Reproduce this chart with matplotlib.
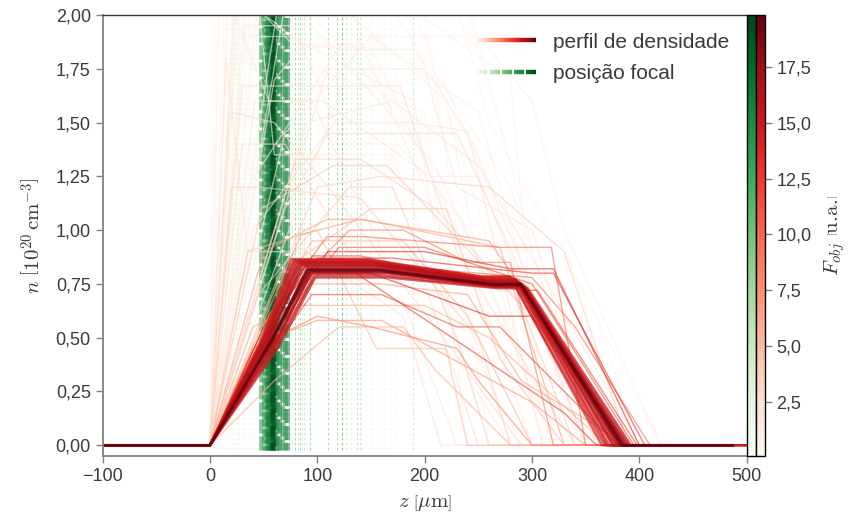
import numpy as np
import matplotlib
matplotlib.use("Agg")
import matplotlib.pyplot as plt
from matplotlib.colors import Normalize
from matplotlib.cm import ScalarMappable
from matplotlib.collections import LineCollection
from matplotlib.legend_handler import HandlerBase
from matplotlib.lines import Line2D
from matplotlib.ticker import FuncFormatter

plt.rcParams['font.family'] = ['Liberation Sans', 'DejaVu Sans']
plt.rcParams['mathtext.fontset'] = 'cm'

# ---------------- data ----------------
z_start = -100
# density profiles: node positions z [um] and densities n [1e20 cm^-3]
profile_z = [
    # low objective (exploration)
    [0, 15, 120, 200, 260, 330, 490],
    [0, 25, 90, 150, 230, 300, 490],
    [0, 35, 119, 191, 245, 360, 490],
    [0, 40, 116, 186, 240, 310, 490],
    [0, 60, 87, 142, 200, 280, 490],
    [0, 30, 100, 177, 230, 340, 490],
    [0, 80, 140, 210, 300, 380, 490],
    [0, 10, 60, 150, 250, 320, 490],
    [0, 50, 109, 142, 270, 330, 490],
    [0, 20, 80, 160, 280, 360, 490],
    [0, 45, 130, 170, 230, 260, 490],
    [0, 70, 110, 230, 290, 350, 490],
    [0, 55, 95, 180, 240, 300, 490],
    [0, 90, 170, 250, 320, 400, 490],
    [0, 25, 75, 190, 230, 280, 490],
    [0, 65, 150, 220, 270, 330, 490],
    [0, 12, 40, 120, 200, 260, 490],
    [0, 100, 160, 260, 330, 390, 490],
    [0, 30, 70, 130, 190, 250, 490],
    [0, 110, 200, 230, 300, 360, 490],
    [0, 50, 120, 220, 260, 300, 490],
    [0, 40, 85, 200, 260, 370, 490],
    [0, 18, 60, 110, 210, 290, 490],
    [0, 75, 130, 210, 280, 310, 490],
    [0, 35, 100, 155, 220, 240, 490],
    [0, 140, 250, 300, 330, 420, 490],
    [0, 85, 140, 260, 330, 370, 490],
    [0, 60, 120, 180, 210, 280, 490],
    [0, 22, 55, 95, 170, 230, 490],
    [0, 95, 160, 240, 290, 390, 490],
    [0, 30, 200, 260, 330, 420, 490],
    [0, 45, 230, 280, 360, 400, 490],
    [0, 8, 90, 180, 250, 310, 490],
    [0, 28, 150, 240, 280, 350, 490],
    [0, 38, 60, 170, 220, 290, 490],
    [0, 42, 105, 205, 250, 350, 490],
    [0, 65, 125, 175, 235, 320, 490],
    [0, 20, 45, 140, 250, 280, 490],
    [0, 5, 50, 100, 200, 240, 490],
    [0, 33, 95, 210, 300, 360, 490],
    [0, 48, 115, 165, 290, 340, 490],
    [0, 15, 35, 90, 180, 215, 490],
    [0, 70, 150, 250, 310, 345, 490],
    [0, 58, 100, 160, 300, 350, 490],
    # intermediate objective
    [0, 70, 100, 170, 300, 320, 405, 490],
    [0, 65, 95, 140, 290, 305, 398, 490],
    [0, 40, 120, 200, 270, 300, 395, 490],
    [0, 55, 109, 142, 270, 318, 350, 490],
    [0, 80, 105, 200, 300, 340, 410, 500],
    [0, 45, 95, 160, 230, 270, 380, 490],
    [0, 60, 130, 180, 240, 280, 320, 490],
    [0, 50, 90, 150, 260, 300, 390, 490],
    [0, 75, 110, 200, 280, 320, 400, 500],
    [0, 40, 100, 150, 230, 250, 300, 490],
    [0, 55, 95, 130, 330, 360, 490],
    # converged
    [0, 58, 93, 160, 263, 290, 385, 487],
    [0, 55, 85, 155, 260, 288, 380, 487],
    [0, 52, 80, 150, 258, 285, 375, 487],
    [0, 60, 95, 165, 265, 292, 388, 487],
    [0, 56, 88, 158, 262, 289, 382, 487],
    [0, 50, 78, 148, 255, 282, 372, 487],
    [0, 62, 97, 162, 266, 294, 390, 487],
    [0, 54, 84, 152, 259, 286, 378, 487],
    [0, 57, 90, 156, 261, 290, 384, 487],
    [0, 53, 82, 150, 257, 284, 370, 500],
    [0, 59, 92, 160, 264, 291, 386, 500],
    [0, 51, 79, 146, 254, 280, 365, 500],
    [0, 63, 98, 166, 268, 296, 392, 487],
    [0, 55, 86, 154, 260, 287, 381, 487],
    [0, 58, 91, 158, 262, 289, 383, 487],
    [0, 49, 76, 145, 253, 279, 368, 487],
    [0, 61, 94, 161, 265, 293, 387, 487],
    [0, 54, 83, 151, 258, 285, 376, 487],
]
profile_n = [
    [0, 2.3, 2.3, 1.9, 1.2, 0, 0],
    [0, 2.1, 1.85, 1.85, 1.0, 0, 0],
    [0, 1.2, 1.84, 1.84, 1.4, 0, 0],
    [0, 1.0, 1.50, 1.50, 1.46, 0, 0],
    [0, 1.7, 1.86, 1.86, 1.2, 0, 0],
    [0, 1.67, 1.67, 1.67, 0.9, 0, 0],
    [0, 1.33, 1.33, 1.1, 0.6, 0, 0],
    [0, 2.6, 2.2, 1.7, 1.0, 0, 0],
    [0, 0.9, 1.05, 1.05, 0.92, 0, 0],
    [0, 2.5, 2.5, 2.1, 1.2, 0, 0],
    [0, 0.7, 1.2, 1.2, 0.5, 0, 0],
    [0, 1.1, 1.45, 1.45, 0.8, 0, 0],
    [0, 0.6, 0.95, 0.95, 0.6, 0, 0],
    [0, 1.5, 1.6, 1.3, 0.7, 0, 0],
    [0, 1.9, 1.9, 1.6, 0.4, 0, 0],
    [0, 0.8, 1.1, 1.1, 0.4, 0, 0],
    [0, 2.8, 2.6, 2.4, 2.0, 0, 0],
    [0, 1.2, 1.25, 1.2, 0.9, 0, 0],
    [0, 1.4, 1.4, 0.9, 0.9, 0, 0],
    [0, 1.75, 1.75, 1.2, 1.0, 0, 0],
    [0, 2.3, 2.05, 1.6, 0.6, 0, 0],
    [0, 0.55, 0.65, 0.65, 0.5, 0, 0],
    [0, 1.55, 1.5, 1.2, 0.55, 0, 0],
    [0, 2.2, 2.2, 1.95, 1.7, 0, 0],
    [0, 0.9, 1.0, 0.45, 0.45, 0, 0],
    [0, 1.9, 1.9, 1.6, 1.0, 0, 0],
    [0, 0.98, 1.05, 0.95, 0.45, 0, 0],
    [0, 0.3, 0.55, 0.55, 0.35, 0, 0],
    [0, 2.0, 1.6, 1.6, 0.8, 0, 0],
    [0, 0.75, 0.75, 0.7, 0.3, 0, 0],
    [0, 2.6, 2.6, 1.5, 0.9, 0, 0],
    [0, 2.4, 2.2, 1.3, 0.6, 0, 0],
    [0, 3.0, 2.8, 2.2, 1.1, 0, 0],
    [0, 2.2, 2.2, 2.1, 1.3, 0, 0],
    [0, 2.4, 1.35, 1.35, 0.7, 0, 0],
    [0, 1.6, 1.6, 1.25, 1.25, 0, 0],
    [0, 2.1, 1.4, 1.4, 1.05, 0, 0],
    [0, 1.2, 1.2, 1.15, 0.5, 0, 0],
    [0, 2.9, 2.0, 1.75, 1.55, 0, 0],
    [0, 1.95, 1.95, 1.3, 0.3, 0, 0],
    [0, 1.1, 1.3, 1.3, 0.65, 0, 0],
    [0, 1.8, 0.9, 0.9, 0.6, 0, 0],
    [0, 1.45, 1.9, 1.55, 0.5, 0, 0],
    [0, 0.5, 0.58, 0.58, 0.2, 0, 0],
    [0, .55, .87, .87, .80, .80, 0, 0],
    [0, .50, .88, .88, .72, .72, 0, 0],
    [0, .40, .92, .92, .80, .75, 0, 0],
    [0, .60, .97, .97, .92, .92, 0, 0],
    [0, .70, .85, .82, .78, .55, 0, 0],
    [0, .35, .70, .70, .55, .55, 0, 0],
    [0, .65, 1.0, 1.0, .85, .85, 0, 0],
    [0, .55, .80, .80, .60, .60, 0, 0],
    [0, .65, .90, .90, .82, .82, 0, 0],
    [0, .45, .60, .55, .45, .30, 0, 0],
    [0, .48, .82, .82, .15, 0, 0],
    [0, .49, .81, .81, .745, .745, 0, 0],
    [0, .50, .84, .84, .76, .76, 0, 0],
    [0, .50, .85, .85, .77, .77, 0, 0],
    [0, .48, .80, .80, .74, .74, 0, 0],
    [0, .52, .83, .83, .755, .755, 0, 0],
    [0, .49, .86, .86, .78, .78, 0, 0],
    [0, .46, .79, .79, .735, .735, 0, 0],
    [0, .53, .845, .845, .765, .765, 0, 0],
    [0, .47, .82, .82, .75, .75, 0, 0],
    [0, .51, .855, .855, .77, .77, 0, 0],
    [0, .50, .82, .82, .75, .75, 0, 0],
    [0, .52, .86, .86, .78, .78, 0, 0],
    [0, .45, .78, .78, .73, .73, 0, 0],
    [0, .49, .835, .835, .76, .76, 0, 0],
    [0, .50, .815, .815, .75, .75, 0, 0],
    [0, .50, .865, .865, .785, .785, 0, 0],
    [0, .47, .805, .805, .74, .74, 0, 0],
    [0, .51, .85, .85, .77, .77, 0, 0],
]
# objective function value of each profile [u.a.]
F_obj = [
    0.3, 0.8, 1.5, 2.2, 1.1, 2.8, 3.4, 0.2, 6.5, 0.5, 4.0, 3.0, 5.5, 2.0, 1.3, 4.8,
    0.15, 3.8, 2.5, 1.8, 0.6, 6.0, 2.9, 0.4, 5.0, 0.9, 7.0, 5.8, 1.6, 6.8, 0.1, 0.08,
    0.12, 0.25, 0.7, 1.9, 1.0, 3.6, 0.18, 1.2, 4.3, 2.4, 0.85, 7.5,
    13.0, 12.0, 11.0, 10.0, 9.5, 11.5, 9.0, 14.0, 13.5, 8.5, 12.5,
    19.83, 16.0, 15.4, 16.6, 16.2, 14.6, 14.9, 15.7, 17.2, 14.4, 14.8, 14.2, 15.1,
    16.4, 19.7, 14.5, 15.9, 15.2,
]
# focal position of each profile [um]
focal_z = [
    12, 18, 31, 37, 45, 163, 149, 8, 140, 22, 118, 110, 93, 168, 27, 123,
    15, 141, 33, 157, 41, 127, 24, 43, 76, 172, 189, 86, 20, 82, 10, 14,
    16, 29, 39, 47, 35, 26, 6, 101, 131, 21, 152, 88,
    74, 79, 84, 93, 110, 63, 118, 66, 123, 137, 70,
    58, 56, 53, 60, 57, 50, 64, 54, 59, 52, 61, 48, 67,
    55, 58.5, 70, 62, 72,
]

x_ticks = [-100, 0, 100, 200, 300, 400, 500]
y_ticks = [0, 0.25, 0.5, 0.75, 1.0, 1.25, 1.5, 1.75, 2.0]
cbar_ticks = [2.5, 5.0, 7.5, 10.0, 12.5, 15.0, 17.5]

# ---------------- figure ----------------
W, H = 848, 528
fig = plt.figure(figsize=(W / 100, H / 100), dpi=100)
ax_l, ax_r, ax_b, ax_t = 102.6, 746.7, 456, 15
ax = fig.add_axes([ax_l / W, 1 - ax_b / H, (ax_r - ax_l) / W, (ax_b - ax_t) / H])
cb_w = 9.0
cax_g = fig.add_axes([ax_r / W, 1 - ax_b / H, cb_w / W, (ax_b - ax_t) / H])
cax_r = fig.add_axes([(ax_r + cb_w) / W, 1 - ax_b / H, cb_w / W, (ax_b - ax_t) / H])

norm = Normalize(vmin=min(F_obj), vmax=max(F_obj))
reds = plt.get_cmap('Reds')
greens = plt.get_cmap('Greens')

order = np.argsort(F_obj)
for k, i in enumerate(order):
    c = greens(norm(F_obj[i]))
    hi = F_obj[i] > 14
    if hi:
        ls = ((k % 5) * 0.7, (3.0, 0.6))
        lw, al = 3.4, 0.55
    else:
        ls = (0, (2.5, 2.0))
        lw, al = 0.8, 0.5
    ax.vlines(focal_z[i], -0.02, 2.0, colors=[c], linestyles=[ls],
              linewidth=lw, alpha=al, zorder=1)
for i in order:
    c = reds(norm(F_obj[i]))
    z = [z_start] + profile_z[i]
    n = [0] + profile_n[i]
    hi = F_obj[i] > 14
    ax.plot(z, n, color=c, lw=1.8 if hi else 1.0,
            alpha=0.7 if hi else 0.6, zorder=2)

ax.set_xlim(-100, 500)
ax.set_ylim(-0.05, 2.0)
ax.set_xticks(x_ticks)
ax.set_yticks(y_ticks)
ax.yaxis.set_major_formatter(FuncFormatter(lambda v, p: f"{v:.2f}".replace('.', ',')))

text_c = '#3a3a3a'
spine_c = '#808080'
for s in ['left', 'bottom']:
    ax.spines[s].set_color(spine_c)
    ax.spines[s].set_linewidth(1.3)
ax.spines['top'].set_color('#333333')
ax.spines['top'].set_linewidth(1.0)
ax.spines['right'].set_visible(False)
ax.tick_params(axis='both', direction='out', length=5, width=1, color=spine_c,
               labelsize=13, labelcolor=text_c)

ax.set_xlabel(r'$z\ \left[\mu\mathrm{m}\right]$', fontsize=15, color=text_c, labelpad=6)
ax.set_ylabel(r'$n\ \left[10^{20}\,\mathrm{cm}^{-3}\right]$', fontsize=15, color=text_c, labelpad=8)

# colorbars
sm_g = ScalarMappable(norm=norm, cmap=greens)
sm_r = ScalarMappable(norm=norm, cmap=reds)
cb_g = fig.colorbar(sm_g, cax=cax_g)
cb_g.set_ticks([])
cb_r = fig.colorbar(sm_r, cax=cax_r)
cb_r.set_ticks(cbar_ticks)
cb_r.ax.yaxis.set_major_formatter(FuncFormatter(lambda v, p: f"{v:.1f}".replace('.', ',')))
cb_r.ax.tick_params(labelsize=13, labelcolor=text_c, length=5, width=1, color=spine_c)
cb_r.set_label(r'$F_{obj}\ \left[\mathrm{u.\!a.\!}\right]$', fontsize=15, color=text_c, labelpad=8)
for cb in (cb_g, cb_r):
    cb.outline.set_edgecolor('black')
    cb.outline.set_linewidth(1.0)


# legend with gradient handles
class GradientHandler(HandlerBase):
    def __init__(self, cmap, dashed=False, nseg=24, lw=3.2):
        super().__init__()
        self.cmap, self.dashed, self.nseg, self.lw = cmap, dashed, nseg, lw

    def create_artists(self, legend, orig_handle, xdescent, ydescent, width, height,
                       fontsize, trans):
        xs = np.linspace(-xdescent, width - xdescent, self.nseg + 1)
        y = height / 2 - ydescent
        segs, cols = [], []
        vals = np.linspace(0.08, 1.0, self.nseg)
        for k in range(self.nseg):
            if self.dashed and k % 5 == 4:
                continue
            segs.append([(xs[k], y), (xs[k + 1], y)])
            cols.append(self.cmap(vals[k]))
        lc = LineCollection(segs, colors=cols, linewidths=self.lw, transform=trans,
                            capstyle='butt')
        return [lc]


h1 = Line2D([], [])
h2 = Line2D([], [])
ax.legend([h1, h2], ['perfil de densidade', 'posição focal'],
          handler_map={h1: GradientHandler(reds), h2: GradientHandler(greens, dashed=True)},
          loc='upper right', frameon=False, fontsize=15, handlelength=2.8,
          labelcolor=text_c, borderaxespad=0.45, labelspacing=0.6)

fig.savefig('out.png', dpi=100)
